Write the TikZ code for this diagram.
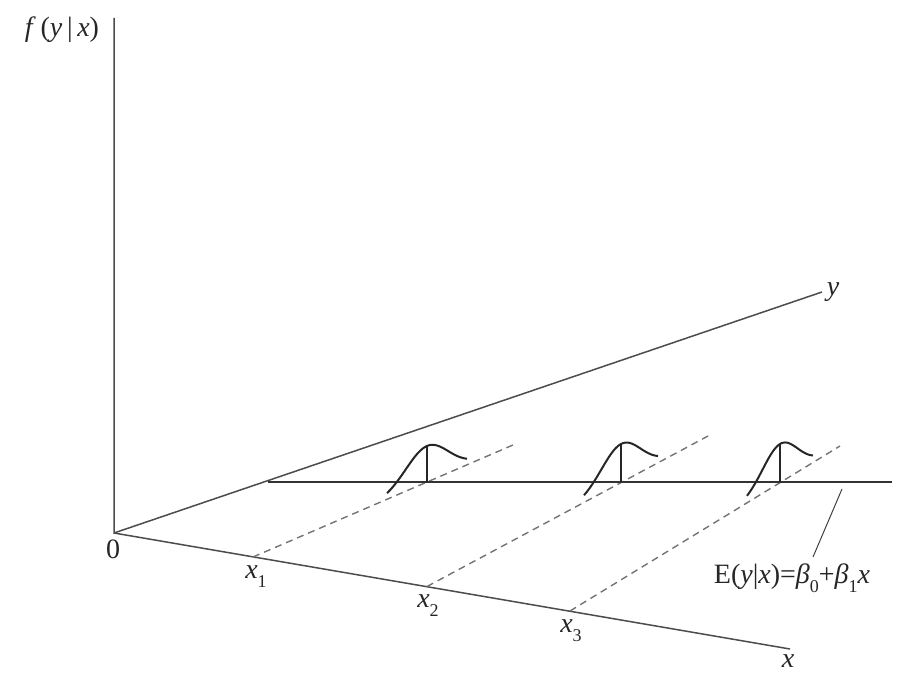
\documentclass[tikz,border=0pt]{standalone}
\usepackage{fontspec}
\setmainfont{Liberation Serif}
\newcommand\bellcurve[5]{% cx cy halfwidth slope height
  \draw[dens] plot[domain=-1:1,samples=60,smooth] ({#1+#3*\x},{#2+#4*#3*\x-#5*exp(-((\x)*(\x))/0.56)});
  \draw[dens] (#1,#2) -- (#1,#2-#5);}
\newcommand\lowsub[1]{\raisebox{-0.32em}{\fontsize{18}{20}\selectfont #1}}
\begin{document}
\begin{tikzpicture}[x=1pt,y=-1pt,
  axis/.style={draw=black!70, line width=1.5pt},
  regline/.style={draw=black!80, line width=2.6pt},
  guide/.style={draw=black!55, line width=1.4pt, dash pattern=on 7pt off 5pt},
  dens/.style={draw=black!85, line width=2pt},
  callout/.style={draw=black!75, line width=1pt},
  lbl/.style={text=black!85, font=\fontsize{28}{32}\selectfont, inner sep=0pt}]
\useasboundingbox (0,0) rectangle (904,684);
% axes
\coordinate (O) at (114,533);
\coordinate (Ftop) at (114,18);
\coordinate (Yend) at (822,292);
\coordinate (Xend) at (790,649);
\draw[axis] (Ftop) -- (O) -- (Yend);
\draw[axis] (O) -- (Xend);
% x ticks
\coordinate (X1) at (253,557);
\coordinate (X2) at (427,586.5);
\coordinate (X3) at (570,611);
\coordinate (D1) at (513,445);
\coordinate (D2) at (708,436);
\coordinate (D3) at (840,446);
\draw[guide] (X1) -- (D1);
\draw[guide] (X2) -- (D2);
\draw[guide] (X3) -- (D3);
% regression line
\coordinate (R0) at (268,482);
\coordinate (R1) at (892,482);
\draw[regline] (R0) -- (R1);
% densities
\bellcurve{427}{482}{40}{-0.43}{36}
\bellcurve{621}{482}{37}{-0.53}{38}
\bellcurve{780}{482}{33}{-0.61}{38}
% callout
\coordinate (Cs) at (842,489);
\coordinate (Ce) at (813,557);
\draw[callout] (Cs) -- (Ce);
% labels
\node[lbl] (flab) at (62,30) {\textit{f}\,(\textit{y}\,|\,\textit{x})};
\node[lbl] (ylab) at (833,292) {\textit{y}};
\node[lbl] (xlab) at (788,661) {\textit{x}};
\node[lbl] (zlab) at (113,549) {0};
\node[lbl] (x1lab) at (256,577) {\textit{x}\lowsub{1}};
\node[lbl] (x2lab) at (428,606) {\textit{x}\lowsub{2}};
\node[lbl] (x3lab) at (571,631) {\textit{x}\lowsub{3}};
\node[lbl] (elab) at (792,578) {E(\textit{y}|\textit{x})=\textit{β}\lowsub{0}+\textit{β}\lowsub{1}\textit{x}};
\end{tikzpicture}
\end{document}
